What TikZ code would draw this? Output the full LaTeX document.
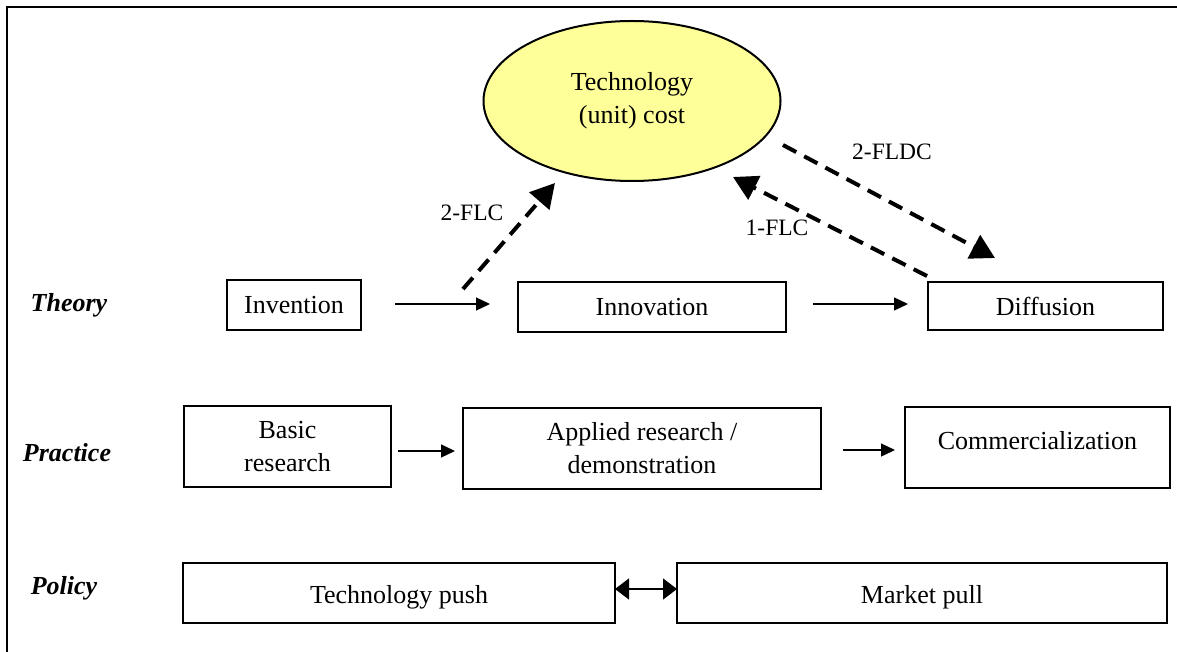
\documentclass[tikz,border=0pt]{standalone}
\usepackage{fontspec}
\setmainfont{Liberation Serif}
\usetikzlibrary{arrows.meta,shapes.geometric}
\definecolor{techyellow}{RGB}{255,255,153}
\begin{document}
\begin{tikzpicture}[x=1pt,y=-1pt,
  every node/.style={font=\fontsize{26}{33}\selectfont, inner sep=0pt, outer sep=0pt},
  box/.style={draw, line width=1.3pt, align=center},
  lbl/.style={font=\fontsize{23.5}{28}\selectfont},
  side/.style={font=\fontsize{26}{30}\selectfont\bfseries\itshape},
  arr/.style={line width=1.3pt, -{Triangle[length=14pt,width=13pt]}},
  dblarr/.style={line width=1.3pt, {Triangle[length=14pt,width=21pt]}-{Triangle[length=14pt,width=21pt]}},
  dasharr/.style={line width=4pt, dash pattern=on 15pt off 9pt, -{Triangle[length=24pt,width=26pt]}},
]
\useasboundingbox (0,0) rectangle (1177,652);
\fill[white] (0,0) rectangle (1177,652);
\draw[line width=2.2pt] (7,652) -- (7,7) -- (1177,7);

% ellipse
\node[ellipse, draw, line width=2pt, fill=techyellow, minimum width=297pt, minimum height=160pt, align=center] (tech) at (632,101) {Technology\\(unit) cost};

% theory row
\node[box, minimum width=134pt, minimum height=50pt] (inv) at (294,305) {Invention};
\node[box, minimum width=268pt, minimum height=50pt] (innov) at (652,307) {Innovation};
\node[box, minimum width=235pt, minimum height=48pt] (diff) at (1045.5,306) {Diffusion};

% practice row
\node[box, minimum width=207pt, minimum height=81pt] (basic) at (287.5,446.5) {Basic\\research};
\node[box, minimum width=358pt, minimum height=81pt] (applied) at (642,448.5) {Applied research /\\demonstration};
\node[box, minimum width=265pt, minimum height=81pt, text depth=14pt] (comm) at (1037.5,447.5) {Commercialization};

% policy row
\node[box, minimum width=432pt, minimum height=60pt, text height=26pt] (tp) at (399,593) {Technology push};
\node[box, minimum width=490pt, minimum height=60pt, text height=26pt] (mp) at (922,593) {Market pull};

% side labels
\node[side] (theory) at (69,305) {Theory};
\node[side] (practice) at (67,453) {Practice};
\node[side] (policy) at (64,588) {Policy};

% solid arrows
\draw[arr, shorten <=34pt, shorten >=28pt] ([yshift=1pt]inv.east) -- ([yshift=1pt]inv.east -| innov.west);
\draw[arr, shorten <=27pt, shorten >=20pt] ([yshift=3pt]innov.east) -- ([yshift=3pt]innov.east -| diff.west);
\draw[arr, shorten <=7pt, shorten >=8pt] ([yshift=-4.5pt]basic.east) -- ([yshift=-4.5pt]basic.east -| applied.west);
\draw[arr, shorten <=22pt, shorten >=10pt] ([yshift=-1.5pt]applied.east) -- ([yshift=-1.5pt]applied.east -| comm.west);
\draw[dblarr] ([yshift=4pt]tp.east) -- ([yshift=4pt]mp.west);

% dashed arrows
\coordinate (a1) at (463,289);
\coordinate (a2) at (555,183);
\coordinate (b1) at (783,145);
\coordinate (b2) at (995,258);
\coordinate (c1) at (927,276);
\coordinate (c2) at (733,177);
\draw[dasharr] (a1) -- (a2);
\draw[dasharr] (b1) -- (b2);
\draw[dasharr] (c1) -- (c2);

% labels
\node[lbl] (l1) at (472,213) {2-FLC};
\node[lbl] (l2) at (892,152) {2-FLDC};
\node[lbl] (l3) at (777,228) {1-FLC};
\end{tikzpicture}
\end{document}
